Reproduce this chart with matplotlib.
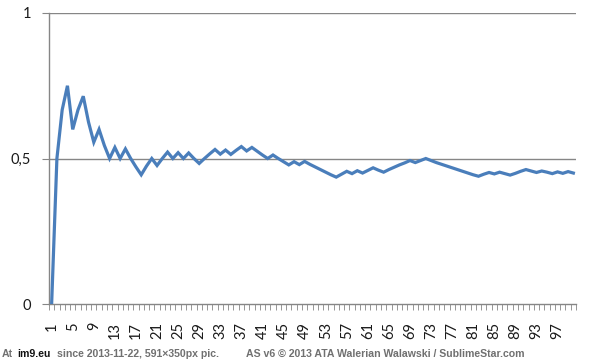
import matplotlib
matplotlib.use("Agg")
import matplotlib.pyplot as plt
from matplotlib.ticker import FixedLocator

# Data (running share, 100 trials)
trials = list(range(1, 101))
share = [
    0.000, 0.500, 0.667, 0.750, 0.600, 0.667, 0.714, 0.625, 0.556, 0.600,
    0.545, 0.500, 0.538, 0.500, 0.533, 0.500, 0.471, 0.444, 0.474, 0.500,
    0.476, 0.500, 0.522, 0.500, 0.520, 0.500, 0.519, 0.500, 0.483, 0.500,
    0.516, 0.531, 0.515, 0.529, 0.514, 0.528, 0.541, 0.526, 0.538, 0.525,
    0.512, 0.500, 0.512, 0.500, 0.489, 0.478, 0.489, 0.479, 0.490, 0.480,
    0.471, 0.462, 0.453, 0.444, 0.436, 0.446, 0.456, 0.448, 0.458, 0.450,
    0.459, 0.468, 0.460, 0.453, 0.462, 0.470, 0.478, 0.485, 0.493, 0.486,
    0.493, 0.500, 0.493, 0.486, 0.480, 0.474, 0.468, 0.462, 0.456, 0.450,
    0.444, 0.439, 0.446, 0.452, 0.447, 0.453, 0.448, 0.443, 0.449, 0.456,
    0.462, 0.457, 0.452, 0.457, 0.453, 0.448, 0.454, 0.449, 0.455, 0.450,
]
x_labels = [str(n) for n in range(1, 101, 4)]
y_ticks = [0, 0.5, 1]
y_labels = ["0", "0,5", "1"]

W, H = 591, 362
fig = plt.figure(figsize=(W / 100, H / 100), dpi=100)
fig.patch.set_facecolor("white")

ax = fig.add_axes([49 / W, 1 - 304 / H, (576 - 49) / W, (304 - 13) / H])
ax.plot(trials, share, color="#4a7ebb", linewidth=2.3, solid_joinstyle="miter", zorder=3)

ax.set_xlim(0.5, 100.5)
ax.set_ylim(0, 1)

for s in ["top", "right"]:
    ax.spines[s].set_visible(False)
for s in ["left", "bottom"]:
    ax.spines[s].set_color("#868686")
    ax.spines[s].set_linewidth(1)

ax.set_yticks(y_ticks)
ax.set_yticklabels(y_labels, fontsize=10.5, family="Lato", color="#1a1a1a")
ax.tick_params(axis="y", length=5, color="#868686", pad=8)
for yv in y_ticks[1:]:
    ax.axhline(yv, color="#868686", linewidth=1, zorder=1)

ax.xaxis.set_major_locator(FixedLocator(list(range(1, 101, 4))))
ax.set_xticklabels(x_labels, rotation=90, fontsize=10.5, family="Lato", color="#1a1a1a")
ax.xaxis.set_minor_locator(FixedLocator([k + 0.5 for k in range(0, 101)]))
ax.tick_params(axis="x", which="major", length=0, pad=13)
ax.tick_params(axis="x", which="minor", length=4, color="#868686")

# footer
fy = 1 - 354 / H
fs = 7.6
fig.text(2 / W, fy, "At", fontsize=fs, weight="bold", color="#707070",
         family="Liberation Sans", va="center")
fig.text(17 / W, fy, "im9.eu", fontsize=fs, weight="bold", color="#111111",
         family="Liberation Sans", va="center")
fig.text(57 / W, fy, "since 2013-11-22, 591\u00d7350px pic.", fontsize=fs, weight="bold",
         color="#707070", family="Liberation Sans", va="center")
fig.text(246 / W, fy, "AS v6 \u00a9 2013 ATA Walerian Walawski / SublimeStar.com", fontsize=fs,
         weight="bold", color="#707070", family="Liberation Sans", va="center")

fig.savefig("out.png", dpi=100, facecolor="white")
